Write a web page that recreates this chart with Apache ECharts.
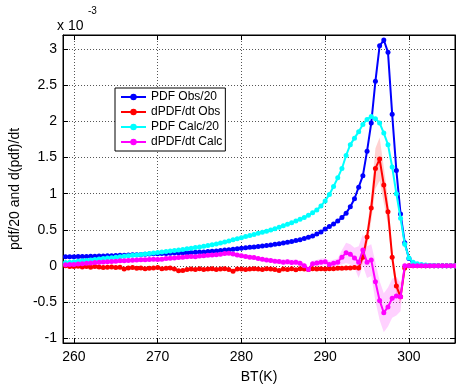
<!DOCTYPE html>
<html><head><meta charset="utf-8">
<script src="https://cdn.jsdelivr.net/npm/echarts@6/dist/echarts.min.js"></script>
<style>html,body{margin:0;padding:0;background:#fff}#c{width:456px;height:389px}</style>
</head><body><div id="c"></div>
<script>
const bt = [259,259.5,260,260.5,261,261.5,262,262.5,263,263.5,264,264.5,265,265.5,266,266.5,267,267.5,268,268.5,269,269.5,270,270.5,271,271.5,272,272.5,273,273.5,274,274.5,275,275.5,276,276.5,277,277.5,278,278.5,279,279.5,280,280.5,281,281.5,282,282.5,283,283.5,284,284.5,285,285.5,286,286.5,287,287.5,288,288.5,289,289.5,290,290.5,291,291.5,292,292.5,293,293.5,294,294.5,295,295.5,296,296.5,297,297.5,298,298.5,299,299.5,300,300.5,301,301.5,302,302.5,303,303.5,304,304.5,305,305.5];
const pdfObs = [0.125,0.126,0.127,0.128,0.129,0.130,0.132,0.133,0.135,0.137,0.139,0.141,0.143,0.145,0.147,0.150,0.152,0.155,0.158,0.160,0.163,0.166,0.168,0.170,0.172,0.174,0.176,0.178,0.180,0.182,0.184,0.187,0.190,0.193,0.197,0.202,0.207,0.212,0.218,0.224,0.230,0.237,0.244,0.250,0.256,0.262,0.268,0.274,0.281,0.289,0.298,0.307,0.317,0.327,0.338,0.350,0.363,0.378,0.395,0.415,0.440,0.470,0.510,0.545,0.580,0.620,0.670,0.730,0.820,0.930,1.090,1.250,1.590,1.980,2.560,3.050,3.130,2.960,2.100,1.320,0.720,0.320,0.100,0.040,0.015,0.006,0,0,0,0,0,0,0,0];
const dObs = [0.0,-0.01,-0.01,-0.005,-0.015,-0.01,-0.02,-0.01,-0.015,-0.025,-0.02,-0.015,-0.025,-0.02,-0.045,-0.03,-0.025,-0.035,-0.03,-0.04,-0.035,-0.03,-0.025,-0.04,-0.035,-0.03,-0.045,-0.07,-0.065,-0.05,-0.045,-0.05,-0.04,-0.05,-0.045,-0.04,-0.05,-0.045,-0.04,-0.05,-0.075,-0.045,-0.045,-0.05,-0.045,-0.04,-0.045,-0.05,-0.04,-0.045,-0.05,-0.065,-0.045,-0.05,-0.04,-0.055,-0.04,-0.045,-0.05,-0.04,-0.045,-0.04,-0.045,-0.04,-0.04,-0.035,-0.035,-0.03,-0.03,-0.025,-0.03,0.12,0.40,0.80,1.35,1.48,1.12,0.75,0.12,-0.28,-0.43,-0.03,0,0,0,0,0,0,0,0,0,0,0,0];
const pdfCalc = [0.045,0.05,0.057,0.063,0.069,0.075,0.081,0.087,0.094,0.1,0.107,0.113,0.12,0.127,0.133,0.139,0.145,0.151,0.157,0.163,0.17,0.177,0.184,0.19,0.197,0.204,0.211,0.219,0.227,0.235,0.244,0.253,0.262,0.272,0.282,0.293,0.304,0.316,0.33,0.345,0.36,0.375,0.39,0.405,0.42,0.435,0.45,0.465,0.48,0.497,0.515,0.535,0.555,0.575,0.597,0.62,0.645,0.67,0.70,0.735,0.775,0.83,0.90,0.99,1.10,1.22,1.35,1.53,1.68,1.77,1.86,1.96,2.03,2.07,2.04,1.98,1.84,1.68,1.37,1.0,0.66,0.30,0.11,0.05,0.03,0.02,0.012,0.006,0.003,0,0,0,0,0];
const dCalc = [0.015,0.018,0.02,0.025,0.03,0.035,0.04,0.045,0.05,0.052,0.055,0.06,0.065,0.07,0.072,0.075,0.078,0.082,0.085,0.083,0.086,0.09,0.088,0.092,0.10,0.105,0.11,0.115,0.12,0.125,0.13,0.125,0.135,0.14,0.145,0.15,0.155,0.16,0.17,0.175,0.165,0.15,0.14,0.13,0.12,0.115,0.10,0.09,0.08,0.075,0.065,0.06,0.05,0.055,0.045,0.05,0.035,0.0,-0.05,0.03,0.04,0.05,0.055,0.02,0.035,0.05,0.12,0.18,0.16,0.11,0.05,0.22,0.05,0.08,-0.22,-0.48,-0.65,-0.57,-0.45,-0.42,-0.43,0.0,0,0,0,0,0,0,0,0,0,0,0,0];
const errObs = [0.02,0.02,0.02,0.02,0.02,0.02,0.02,0.02,0.02,0.02,0.02,0.02,0.02,0.02,0.02,0.02,0.02,0.02,0.02,0.02,0.02,0.02,0.02,0.02,0.02,0.02,0.02,0.02,0.02,0.02,0.02,0.02,0.02,0.02,0.02,0.02,0.02,0.02,0.02,0.02,0.02,0.02,0.02,0.02,0.02,0.02,0.02,0.02,0.02,0.02,0.02,0.02,0.02,0.02,0.02,0.02,0.02,0.02,0.02,0.02,0.02,0.02,0.02,0.02,0.02,0.02,0.02,0.02,0.02,0.02,0.04,0.08,0.12,0.18,0.28,0.30,0.25,0.18,0.12,0.10,0.10,0.03,0,0,0,0,0,0,0,0,0,0,0,0];
const errCalc = [0.03,0.03,0.03,0.03,0.03,0.03,0.03,0.03,0.03,0.03,0.03,0.03,0.03,0.03,0.03,0.03,0.03,0.03,0.03,0.03,0.03,0.03,0.03,0.03,0.03,0.03,0.03,0.03,0.03,0.03,0.03,0.03,0.03,0.03,0.03,0.03,0.03,0.03,0.03,0.03,0.03,0.03,0.03,0.03,0.03,0.03,0.03,0.03,0.03,0.03,0.03,0.03,0.04,0.04,0.04,0.04,0.04,0.04,0.04,0.04,0.04,0.05,0.05,0.05,0.05,0.05,0.10,0.14,0.14,0.14,0.22,0.22,0.22,0.22,0.27,0.27,0.27,0.27,0.27,0.27,0.20,0.05,0,0,0,0,0,0,0,0,0,0,0,0];
const xTicks = [260,270,280,290,300];
const yTicks = [-1,-0.5,0,0.5,1,1.5,2,2.5,3];
const names = ['PDF Obs/20','dPDF/dt Obs','PDF Calc/20','dPDF/dt Calc'];
const colors = ['#0000FF','#FF0000','#00FFFF','#FF00FF'];

const FF = '"Liberation Sans", Arial, Helvetica, sans-serif';
const chart = echarts.init(document.getElementById('c'), null, {renderer:'canvas'});

function pairs(v){ return bt.map((x,i)=>[x, v[i]]); }
function bandSeries(center, err, fill){
  return {
    type:'custom', silent:true, z:1, animation:false,
    data:[[bt[0], center[0]]],
    renderItem:function(params, api){
      const pts=[];
      for(let i=0;i<bt.length;i++) pts.push(api.coord([bt[i], center[i]+err[i]]));
      for(let i=bt.length-1;i>=0;i--) pts.push(api.coord([bt[i], center[i]-err[i]]));
      return {type:'polygon', shape:{points:pts}, style:{fill:fill, stroke:null}};
    }
  };
}
function lineSeries(idx, vals){
  return {
    name:names[idx], type:'line', data:pairs(vals), z:3+idx, animation:false,
    symbol:'circle', symbolSize:5, showSymbol:true,
    lineStyle:{width:2, color:colors[idx]}, itemStyle:{color:colors[idx]}
  };
}
const gridLine = {show:true, lineStyle:{type:[1,2], color:'#555', width:1}};
const option = {
  backgroundColor:'#fff',
  animation:false,
  textStyle:{fontFamily:FF},
  grid:{left:56, right:1, top:35, bottom:41, show:true, borderColor:'#000', borderWidth:1, backgroundColor:'transparent'},
  legend:{
    data:names, orient:'vertical', left:115, top:88,
    itemWidth:25, itemHeight:8, itemGap:3,
    padding:[3,3,3,5], borderColor:'#000', borderWidth:1, backgroundColor:'#fff',
    textStyle:{fontSize:12, color:'#000', fontFamily:FF}, z:10
  },
  xAxis:[{
    type:'value', min:258.7, max:305.5, splitNumber:5, position:'bottom',
    axisLine:{show:true, onZero:false, lineStyle:{color:'#000'}},
    axisTick:{show:true, inside:true, length:5, customValues:xTicks, lineStyle:{color:'#000'}},
    axisLabel:{customValues:xTicks, color:'#000', fontSize:14, margin:7, fontFamily:FF},
    splitLine:gridLine,
    name:'BT(K)', nameLocation:'middle', nameGap:27,
    nameTextStyle:{color:'#000', fontSize:14, fontFamily:FF}
  },{
    type:'value', min:258.7, max:305.5, splitNumber:5, position:'top',
    axisLine:{show:true, onZero:false, lineStyle:{color:'#000'}},
    axisTick:{show:true, inside:true, length:5, customValues:xTicks, lineStyle:{color:'#000'}},
    axisLabel:{show:false}, splitLine:{show:false}
  }],
  yAxis:[{
    type:'value', min:-1.07, max:3.2, splitNumber:9, position:'left',
    axisLine:{show:true, onZero:false, lineStyle:{color:'#000'}},
    axisTick:{show:true, inside:true, length:5, customValues:yTicks, lineStyle:{color:'#000'}},
    axisLabel:{customValues:yTicks, color:'#000', fontSize:14, margin:6, fontFamily:FF},
    splitLine:gridLine,
    name:'pdf/20 and d(pdf)/dt', nameLocation:'middle', nameGap:30,
    nameTextStyle:{color:'#000', fontSize:14, fontFamily:FF}
  },{
    type:'value', min:-1.07, max:3.2, splitNumber:9, position:'right',
    axisLine:{show:true, onZero:false, lineStyle:{color:'#000'}},
    axisTick:{show:true, inside:true, length:5, customValues:yTicks, lineStyle:{color:'#000'}},
    axisLabel:{show:false}, splitLine:{show:false}
  }],
  graphic:[
    {type:'text', left:57, top:19, style:{text:'x 10', fontSize:14, fill:'#000', fontFamily:FF}},
    {type:'text', left:88, top:6, style:{text:'-3', fontSize:10, fill:'#000', fontFamily:FF}}
  ],
  series:[
    bandSeries(dObs, errObs, 'rgba(255,0,0,0.18)'),
    bandSeries(dCalc, errCalc, 'rgba(255,0,255,0.18)'),
    lineSeries(0, pdfObs),
    lineSeries(1, dObs),
    lineSeries(2, pdfCalc),
    lineSeries(3, dCalc)
  ]
};
chart.setOption(option);
</script>
</body></html>
